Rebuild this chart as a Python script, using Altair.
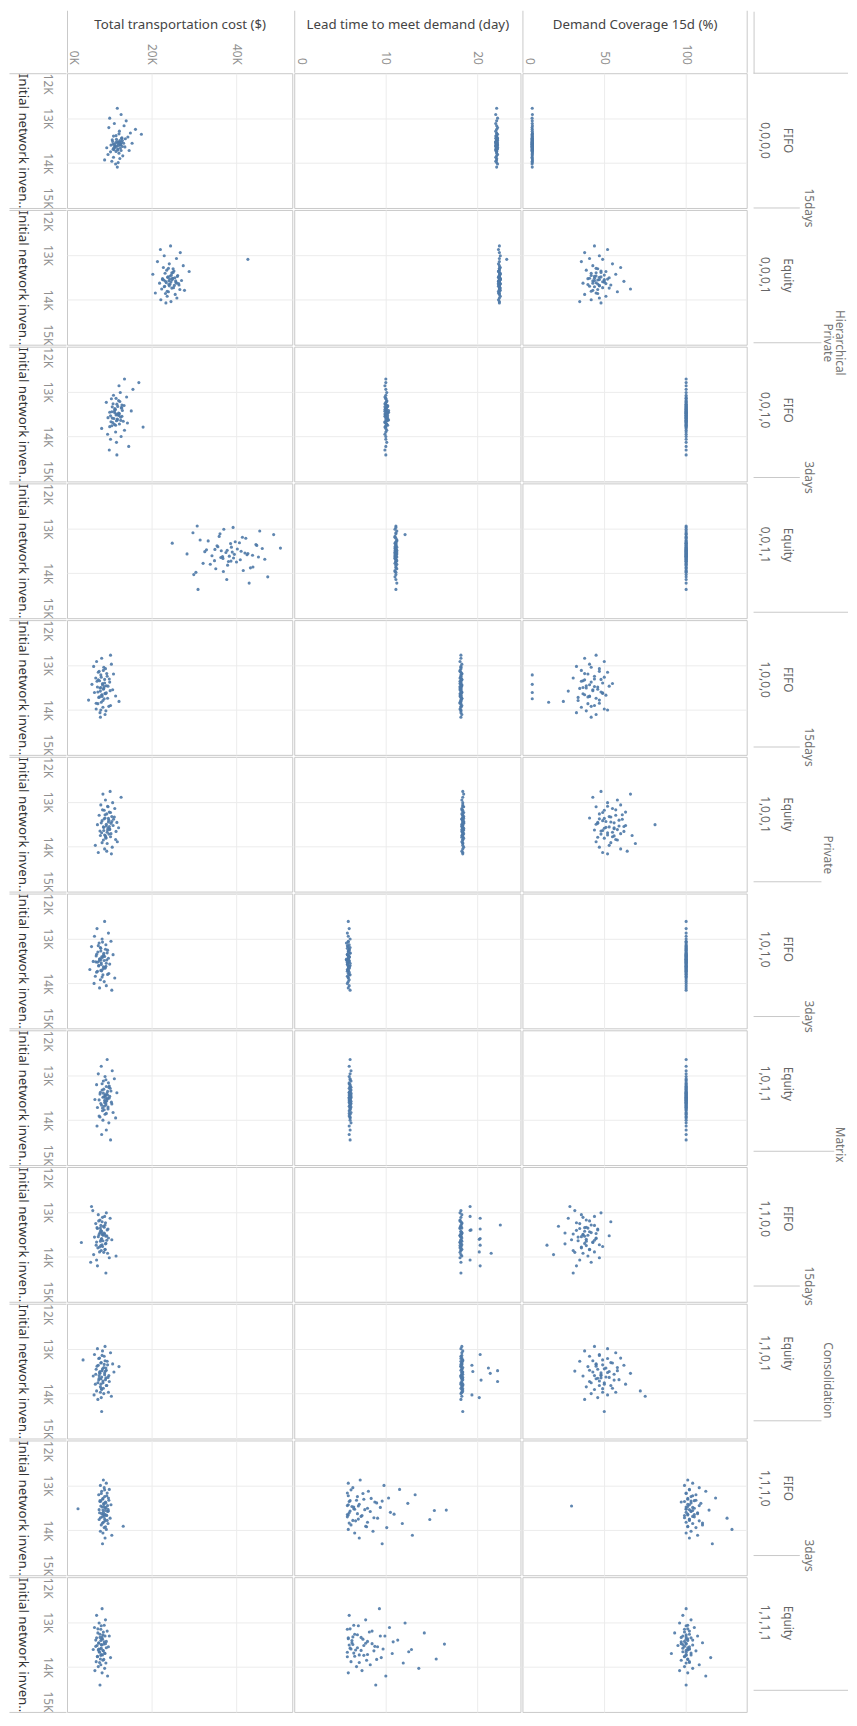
import altair as alt
import pandas as pd

# ---------------- data ----------------
ROW_CODES = ["0,0,0,0", "0,0,0,1", "0,0,1,0", "0,0,1,1", "1,0,0,0", "1,0,0,1",
             "1,0,1,0", "1,0,1,1", "1,1,0,0", "1,1,0,1", "1,1,1,0", "1,1,1,1"]
ROW_POLICY = ["FIFO", "Equity", "FIFO", "Equity", "FIFO", "Equity",
              "FIFO", "Equity", "FIFO", "Equity", "FIFO", "Equity"]
DAYS_LABELS = ["15days", "3days", "15days", "3days", "15days", "3days"]
DAYS_POS = [1, 3, 5, 7, 9, 11]            # row-boundary the label sits on
LEVEL3_LABELS = ["Private", "Private", "Consolidation"]
LEVEL3_POS = [2.0, 5.8, 9.7]
LEVEL4_LABELS = ["Hierarchical", "Matrix"]
LEVEL4_POS = [2.0, 7.95]

MEASURE_TITLES = ["Total transportation cost ($)", "Lead time to meet demand (day)",
                  "Demand Coverage 15d (%)"]
INV_TITLE = "Initial network inven.."

# inventory (K), cost (K$), lead time (day), coverage (%) per row
INV1 = [12.78,12.92,13.00,13.06,13.12,13.17,13.21,13.25,13.29,13.33,
        13.36,13.39,13.42,13.45,13.48,13.50,13.52,13.54,13.56,13.58,
        13.60,13.62,13.64,13.66,13.68,13.70,13.72,13.75,13.78,13.81,
        13.84,13.87,13.90,13.93,13.96,13.99,14.02,14.09,13.57,13.63,
        13.35,13.40,13.44,13.47,13.50,13.52,13.54,13.55,13.56,13.57,
        13.58,13.59,13.60,13.61,13.62,13.63,13.65,13.67,13.69,13.71,
        13.74,13.46,13.53,13.66,13.72]
COST1 = [11.9,12.8,10.1,14.0,11.2,13.5,9.9,16.2,12.4,15.0,
         17.6,11.6,14.4,12.9,10.7,13.1,11.8,12.2,15.4,10.9,
         12.6,11.4,13.7,9.4,12.0,11.1,14.7,10.3,12.3,9.7,
         13.2,11.0,12.5,8.9,10.6,12.1,11.5,11.9,12.7,11.3,
         12.3,11.0,13.0,11.7,12.5,10.8,12.9,11.5,13.4,12.1,
         11.2,12.7,10.4,12.2,11.8,13.1,11.4,12.6,10.9,12.0,
         11.6,13.8,12.4,11.1,12.8]
LEAD1 = [22.1,22.0,22.2,22.1,22.0,22.1,22.2,22.1,22.0,22.1,
         22.2,22.1,22.1,22.0,22.1,22.2,22.1,22.0,22.1,22.1,
         22.2,22.0,22.1,22.1,22.2,22.1,22.0,22.1,22.1,22.2,
         22.1,22.0,22.1,22.1,22.0,22.1,22.2,22.1,22.1,22.0,
         22.1,22.0,22.2,22.1,22.1,22.0,22.1,22.2,22.1,22.0,
         22.1,22.1,22.2,22.0,22.1,22.1,22.2,22.1,22.0,22.1,
         22.1,22.2,22.0,22.1,22.1]
COV1 = [6.0,6.1,5.9,6.0,6.0,6.1,5.9,6.0,6.0,6.1,
        6.0,5.9,6.0,6.1,6.0,6.0,5.9,6.0,6.1,6.0,
        6.0,5.9,6.0,6.1,6.0,6.0,5.9,6.0,6.1,6.0,
        6.0,5.9,6.0,6.1,6.0,6.0,5.9,6.0,6.1,6.0,
        6.0,6.1,5.9,6.0,6.0,6.1,5.9,6.0,6.0,6.1,
        6.0,5.9,6.0,6.1,6.0,6.0,5.9,6.0,6.1,6.0,
        6.0,5.9,6.0,6.1,6.0]

INV2 = [12.80,12.88,12.95,13.02,13.08,13.10,13.15,13.20,13.24,13.28,
        13.31,13.34,13.37,13.40,13.43,13.46,13.49,13.51,13.53,13.55,
        13.57,13.59,13.61,13.63,13.65,13.67,13.70,13.73,13.76,13.79,
        13.82,13.85,13.88,13.92,13.96,14.00,14.04,14.07,13.52,13.58,
        13.30,13.36,13.41,13.45,13.48,13.50,13.52,13.54,13.56,13.58,
        13.60,13.62,13.64,13.66,13.68,13.71,13.74,13.77,13.81,13.39,
        13.47,13.55,13.63,13.69,13.86]
COST2 = [24.5,22.1,26.8,23.0,25.9,42.8,21.4,24.2,27.5,22.8,
         25.1,23.6,28.9,24.8,20.3,26.2,23.9,25.5,22.6,24.9,
         27.1,23.3,25.8,21.9,24.4,26.5,23.1,25.2,22.4,27.8,
         24.0,20.9,25.6,23.7,26.0,22.2,24.6,23.4,25.0,24.1,
         24.0,25.3,23.2,24.7,26.1,23.8,25.0,24.3,22.9,25.7,
         24.6,23.5,26.4,24.1,25.4,23.0,24.8,26.7,23.7,25.1,
         24.4,22.6,25.9,24.2,23.3]
LEAD2 = [22.4,22.3,22.4,22.5,22.4,23.2,22.4,22.3,22.4,22.5,
         22.4,22.4,22.3,22.4,22.5,22.4,22.3,22.4,22.4,22.5,
         22.4,22.3,22.4,22.4,22.5,22.4,22.3,22.4,22.4,22.5,
         22.4,22.3,22.4,22.5,22.4,22.3,22.4,22.4,22.5,22.4,
         22.4,22.3,22.5,22.4,22.4,22.3,22.4,22.5,22.4,22.3,
         22.4,22.4,22.5,22.3,22.4,22.4,22.5,22.4,22.3,22.4,
         22.4,22.5,22.3,22.4,22.4]
COV2 = [44,52,38,47,41,49,36,55,43,60,
        46,39,51,45,57,42,48,53,40,47,
        44,62,50,37,46,54,41,49,66,43,
        58,45,38,51,47,42,35,48,44,50,
        45,48,42,50,44,47,41,52,46,43,
        49,45,51,40,47,44,53,46,42,48,
        45,50,43,47,46]

INV3 = [12.72,12.80,12.87,12.95,13.02,13.08,13.12,13.16,13.20,13.24,
        13.28,13.31,13.34,13.37,13.40,13.43,13.46,13.49,13.52,13.55,
        13.58,13.61,13.64,13.67,13.70,13.73,13.76,13.79,13.82,13.86,
        13.90,13.95,14.00,14.06,14.13,14.22,14.30,14.41,13.47,13.53,
        13.15,13.22,13.27,13.33,13.38,13.42,13.45,13.48,13.50,13.54,
        13.57,13.60,13.63,13.66,13.69,13.72,13.75,13.78,13.35,13.44,
        13.52,13.59,13.65,13.30,13.40]
COST3 = [13.6,17.0,12.3,15.6,12.6,11.0,14.1,10.5,12.2,9.3,
         11.8,13.5,10.7,12.9,11.4,15.2,10.1,12.4,11.6,13.0,
         9.7,11.9,12.7,10.4,14.3,11.2,10.6,18.0,8.2,13.6,
         11.5,9.6,12.8,10.3,11.7,14.6,10.0,11.8,11.3,12.3,
         11.6,12.5,10.9,12.0,11.3,13.1,10.6,12.2,11.8,10.3,
         12.7,11.1,11.9,13.3,10.8,12.4,11.5,10.1,12.9,11.2,
         12.1,10.7,11.7,13.0,11.4]
LEAD3 = [10.0,10.0,9.9,10.0,10.1,10.0,9.9,10.0,10.1,10.0,
         10.0,10.2,9.9,10.0,10.1,10.0,10.3,10.2,10.0,9.9,
         10.1,10.0,10.2,9.9,10.0,10.1,10.0,9.9,10.0,10.1,
         10.0,9.9,10.0,10.0,10.1,10.0,9.9,10.0,10.2,10.0,
         10.0,10.1,9.9,10.2,10.0,10.3,10.1,10.0,9.9,10.2,
         10.0,10.1,10.3,10.0,9.9,10.1,10.2,10.0,10.1,9.9,
         10.0,10.2,10.1,10.0,9.9]
COV3 = [100,100,100,100,100,100,100,100,100,100,
        100,100,100,100,100,100,100,100,100,100,
        100,100,100,100,100,100,100,100,100,100,
        100,100,100,100,100,100,100,100,100,100,
        100,100,100,100,100,100,100,100,100,100,
        100,100,100,100,100,100,100,100,100,100,
        100,100,100,100,100]

INV4 = [12.95,12.98,13.02,13.06,13.10,13.14,13.18,13.22,13.26,13.30,
        13.33,13.36,13.39,13.42,13.45,13.48,13.51,13.54,13.57,13.60,
        13.63,13.66,13.69,13.72,13.75,13.78,13.82,13.86,13.90,13.94,
        13.98,14.03,14.08,14.14,14.22,14.36,13.50,13.56,13.44,13.62,
        13.12,13.20,13.28,13.34,13.38,13.41,13.46,13.49,13.52,13.55,
        13.58,13.61,13.64,13.67,13.70,13.74,13.80,13.88,13.96,13.32,
        13.47,13.53,13.59,13.65,13.73]
COST4 = [30.8,39.3,37.1,45.6,29.8,48.9,36.0,42.3,31.5,39.8,
         24.9,44.7,35.5,38.9,46.2,33.0,41.2,37.6,28.4,43.9,
         36.8,39.4,46.8,34.9,40.1,32.2,38.0,44.0,35.2,41.7,
         30.5,30.0,47.5,37.8,43.1,31.0,36.5,42.8,50.5,38.4,
         36.2,41.5,33.4,38.7,44.9,35.7,40.3,37.9,32.6,42.1,
         39.6,34.3,45.3,36.9,41.0,38.2,33.9,43.4,37.0,40.8,
         35.0,39.1,42.6,36.4,38.8]
LEAD4 = [11.1,11.1,11.0,11.2,11.1,12.1,11.0,11.1,11.2,11.1,
         11.0,11.1,11.1,11.2,11.0,11.1,11.1,11.0,11.2,11.1,
         11.1,11.0,11.1,11.2,11.1,11.0,11.1,11.1,11.2,11.0,
         11.1,11.1,11.0,11.1,11.2,11.1,11.0,11.1,11.1,11.0,
         11.1,11.0,11.2,11.1,11.1,11.0,11.1,11.2,11.1,11.0,
         11.1,11.1,11.2,11.0,11.1,11.1,11.2,11.1,11.0,11.1,
         11.1,11.2,11.0,11.1,11.1]
COV4 = [100,100,100,100,100,100,100,100,100,100,
        100,100,100,100,100,100,100,100,100,100,
        100,100,100,100,100,100,100,100,100,100,
        100,100,100,100,100,100,100,100,100,100,
        100,100,100,100,100,100,100,100,100,100,
        100,100,100,100,100,100,100,100,100,100,
        100,100,100,100,100]

INV5 = [12.78,12.85,12.92,12.98,13.03,13.08,13.12,13.16,13.20,13.22,
        13.25,13.29,13.32,13.35,13.38,13.41,13.43,13.46,13.49,13.52,
        13.55,13.58,13.61,13.63,13.66,13.69,13.72,13.75,13.78,13.81,
        13.83,13.86,13.90,13.94,13.98,14.02,14.06,14.10,14.16,13.50,
        13.05,13.14,13.19,13.27,13.31,13.36,13.40,13.44,13.47,13.51,
        13.54,13.57,13.60,13.64,13.67,13.71,13.74,13.79,13.85,13.92,
        14.00,13.33,13.48,13.62,13.70]
COST5 = [10.3,8.2,7.0,10.5,6.3,9.1,8.6,7.4,11.0,8.0,
         9.5,6.8,8.9,7.7,10.1,8.4,5.9,9.3,7.2,8.7,
         10.8,7.9,6.5,9.0,8.3,11.5,7.5,8.8,5.1,12.3,
         8.1,7.3,10.3,8.5,6.9,9.2,7.8,9.0,7.9,8.0,
         8.7,7.6,9.4,8.1,10.0,7.1,8.9,8.4,9.7,7.8,
         8.6,10.2,7.3,9.1,8.2,7.7,9.6,8.5,6.9,9.9,
         8.0,7.4,8.8,9.3,8.3]
LEAD5 = [18.2,18.2,18.1,18.3,18.2,18.2,18.1,18.2,18.3,18.2,
         18.2,18.1,18.3,18.2,18.2,18.1,18.2,18.3,18.2,18.2,
         18.1,18.2,18.3,18.2,18.2,18.1,18.2,18.3,18.2,18.2,
         18.1,18.2,18.3,18.2,18.1,18.2,18.2,18.3,18.2,18.2,
         18.2,18.1,18.3,18.2,18.2,18.1,18.2,18.3,18.2,18.1,
         18.2,18.2,18.3,18.1,18.2,18.2,18.3,18.2,18.1,18.2,
         18.2,18.3,18.1,18.2,18.2]
COV5 = [45,38,50,41,33,47,36,52,40,6,
        44,31,48,37,42,55,6,39,46,35,
        43,28,6,49,38,41,34,6,47,25,
        16,40,44,36,50,39,33,45,42,37,
        42,47,38,50,44,36,49,41,53,39,
        46,43,48,37,51,40,45,34,47,42,
        52,38,44,49,41]

INV6 = [12.77,12.83,12.90,12.96,13.02,13.07,13.11,13.15,13.19,13.23,
        13.27,13.30,13.33,13.36,13.39,13.42,13.45,13.48,13.51,13.54,
        13.57,13.60,13.63,13.66,13.69,13.72,13.75,13.78,13.81,13.85,
        13.89,13.93,13.97,14.01,14.05,14.10,14.13,14.16,13.46,13.58,
        13.10,13.18,13.24,13.29,13.34,13.38,13.41,13.44,13.47,13.50,
        13.53,13.56,13.59,13.62,13.65,13.68,13.71,13.74,13.79,13.84,
        13.91,13.37,13.55,13.64,13.76]
COST6 = [10.2,8.5,12.8,9.1,10.8,8.0,9.7,11.3,8.8,10.0,
         9.4,7.6,10.6,9.0,11.0,8.3,9.8,10.4,7.2,9.3,
         8.7,10.1,9.6,11.6,8.2,9.9,7.9,10.3,9.2,8.6,
         11.9,9.5,6.7,10.7,8.9,9.4,7.4,10.5,11.8,12.2,
         9.6,8.4,10.3,9.0,11.2,8.8,9.9,10.6,8.1,9.3,
         10.9,8.6,9.7,10.1,7.8,9.5,10.4,8.9,9.2,11.5,
         8.3,9.8,10.0,8.7,9.1]
LEAD6 = [18.4,18.5,18.4,18.3,18.4,18.4,18.5,18.3,18.4,18.4,
         18.3,18.4,18.5,18.4,18.3,18.4,18.4,18.5,18.4,18.3,
         18.4,18.4,18.5,18.3,18.4,18.4,18.3,18.4,18.5,18.4,
         18.3,18.4,18.4,18.5,18.4,18.3,18.4,18.4,18.5,18.4,
         18.4,18.3,18.5,18.4,18.4,18.3,18.4,18.5,18.4,18.3,
         18.4,18.4,18.5,18.3,18.4,18.4,18.5,18.4,18.3,18.4,
         18.4,18.5,18.3,18.4,18.4]
COV6 = [48,66,43,58,52,60,45,55,50,63,
        47,57,53,41,61,49,54,46,81,59,
        51,56,44,62,52,48,67,55,50,58,
        45,69,53,47,60,64,49,52,46,56,
        52,57,49,61,54,47,59,51,56,45,
        63,53,50,58,48,55,60,52,46,57,
        54,50,62,49,56]

INV7 = [12.62,12.78,12.88,12.95,13.01,13.06,13.10,13.14,13.18,13.22,
        13.26,13.30,13.33,13.36,13.39,13.42,13.45,13.48,13.51,13.54,
        13.57,13.60,13.63,13.66,13.69,13.72,13.75,13.78,13.81,13.84,
        13.88,13.92,13.96,14.00,14.05,14.10,14.15,13.47,13.53,13.40,
        13.08,13.16,13.24,13.28,13.32,13.35,13.38,13.41,13.44,13.46,
        13.49,13.52,13.55,13.58,13.61,13.64,13.68,13.73,13.80,13.86,
        13.20,13.37,13.50,13.62,13.71]
COST7 = [8.9,7.1,9.8,6.5,8.3,10.4,7.6,9.2,5.8,8.0,
         9.6,7.3,8.7,10.9,6.9,8.4,7.8,9.4,6.2,8.1,
         10.1,7.5,8.6,9.0,5.4,8.2,7.0,9.9,8.5,6.7,
         11.3,7.9,8.8,6.4,9.3,7.7,10.6,8.0,7.2,8.9,
         8.4,7.4,9.1,8.0,9.5,7.0,8.6,8.2,9.8,7.7,
         8.8,6.8,9.3,8.1,7.5,9.0,8.5,7.2,9.6,8.3,
         7.9,8.7,7.6,9.2,8.0]
LEAD7 = [5.9,6.0,5.8,5.9,6.1,5.9,5.7,6.0,5.9,5.8,
         6.0,5.9,6.1,5.8,5.9,6.0,5.9,5.7,6.0,5.9,
         5.8,6.1,5.9,6.0,5.8,5.9,6.0,5.9,6.1,5.8,
         5.9,6.0,5.9,5.8,6.0,5.9,6.1,5.9,5.8,6.0,
         5.9,5.8,6.0,5.9,6.1,5.8,5.9,6.0,5.9,5.7,
         6.0,5.9,6.1,5.8,5.9,6.0,5.9,5.8,6.0,5.9,
         6.1,5.9,5.8,6.0,5.9]
COV7 = [100,100,100,100,100,100,100,100,100,100,
        100,100,100,100,100,100,100,100,100,100,
        100,100,100,100,100,100,100,100,100,100,
        100,100,100,100,100,100,100,100,100,100,
        100,100,100,100,100,100,100,100,100,100,
        100,100,100,100,100,100,100,100,100,100,
        100,100,100,100,100]

INV8 = [12.65,12.80,12.90,12.97,13.03,13.08,13.13,13.17,13.21,13.25,
        13.29,13.33,13.36,13.39,13.42,13.45,13.48,13.51,13.54,13.57,
        13.60,13.63,13.66,13.69,13.72,13.75,13.79,13.83,13.87,13.91,
        13.95,14.00,14.06,14.13,14.22,14.32,14.44,13.50,13.56,13.44,
        13.10,13.19,13.27,13.31,13.35,13.38,13.41,13.44,13.47,13.49,
        13.52,13.55,13.58,13.61,13.64,13.67,13.71,13.77,13.85,13.93,
        13.24,13.40,13.53,13.62,13.73]
COST8 = [9.5,8.1,10.7,7.4,9.0,11.2,8.6,9.8,7.0,9.3,
         10.2,8.3,9.6,11.8,7.8,9.1,8.7,10.0,6.6,9.4,
         10.5,8.0,9.2,8.8,7.2,9.7,8.4,10.9,9.0,7.6,
         11.5,8.5,9.9,7.1,9.3,8.2,10.3,9.1,8.9,9.6,
         9.2,8.3,9.9,8.7,10.4,7.9,9.4,9.0,10.1,8.5,
         9.6,7.6,9.1,8.9,10.6,8.2,9.7,8.8,9.3,7.8,
         10.0,8.6,9.5,9.2,8.4]
LEAD8 = [6.1,6.0,6.2,6.1,6.0,6.1,6.2,6.0,6.1,6.1,
         6.0,6.2,6.1,6.0,6.1,6.1,6.2,6.0,6.1,6.0,
         6.1,6.2,6.1,6.0,6.1,6.1,6.0,6.2,6.1,6.0,
         6.1,6.1,6.2,6.0,6.1,6.0,6.1,6.2,6.1,6.0,
         6.1,6.0,6.2,6.1,6.1,6.0,6.1,6.2,6.1,6.0,
         6.1,6.1,6.2,6.0,6.1,6.1,6.2,6.1,6.0,6.1,
         6.1,6.2,6.0,6.1,6.1]
COV8 = [100,100,100,100,100,100,100,100,100,100,
        100,100,100,100,100,100,100,100,100,100,
        100,100,100,100,100,100,100,100,100,100,
        100,100,100,100,100,100,100,100,100,100,
        100,100,100,100,100,100,100,100,100,100,
        100,100,100,100,100,100,100,100,100,100,
        100,100,100,100,100]

INV9 = [12.88,12.97,13.02,13.06,13.10,13.14,13.18,13.22,13.26,13.29,
        13.32,13.35,13.38,13.41,13.44,13.47,13.50,13.53,13.56,13.59,
        13.62,13.65,13.68,13.71,13.74,13.77,13.80,13.83,13.86,13.89,
        13.92,13.95,13.98,14.02,14.07,14.12,14.20,14.36,13.48,13.54,
        13.12,13.20,13.24,13.30,13.34,13.37,13.40,13.43,13.46,13.49,
        13.52,13.55,13.58,13.61,13.64,13.67,13.70,13.73,13.78,13.84,
        13.90,13.36,13.51,13.63,13.75]
COST9 = [5.8,6.1,9.3,7.4,8.9,10.2,7.8,8.3,6.8,9.0,
         8.6,7.1,9.7,8.0,8.0,8.8,7.6,9.4,6.5,8.2,
         10.6,7.9,3.4,9.1,6.9,8.4,7.3,9.0,8.1,7.7,
         9.6,6.3,11.6,10.0,7.0,5.6,7.2,9.2,8.3,9.2,
         8.4,7.5,9.1,8.0,8.8,7.2,9.5,8.2,7.8,8.9,
         8.6,7.4,9.8,8.1,8.5,7.0,9.2,8.3,7.7,9.0,
         8.7,7.9,8.4,9.4,8.0]
LEAD9 = [19.2,18.2,18.1,18.3,19.2,20.3,18.1,18.2,18.3,22.5,
         18.2,18.1,20.3,19.2,18.2,18.3,18.2,18.1,18.2,20.3,
         18.2,18.3,18.1,18.2,20.3,18.2,18.1,18.3,18.2,20.2,
         21.5,18.2,18.3,18.1,19.2,18.2,20.3,18.2,18.3,18.2,
         18.2,18.1,18.3,18.2,18.2,18.1,19.3,18.2,18.3,18.2,
         18.1,18.2,18.3,20.2,18.2,18.1,18.2,18.3,18.2,18.2,
         18.1,18.3,18.2,18.2,18.1]
COV9 = [29,32,48,36,44,28,39,54,35,42,
        22,38,46,33,41,26,37,53,34,45,
        30,39,43,26,15,49,36,41,31,44,
        37,19,40,47,35,42,33,31,45,38,
        37,41,33,44,39,35,46,38,42,31,
        40,36,45,39,34,43,38,47,36,41,
        32,40,37,44,39]

INV10 = [12.95,13.00,13.05,13.09,13.13,13.17,13.21,13.25,13.28,13.31,
         13.34,13.37,13.40,13.43,13.46,13.49,13.52,13.55,13.58,13.61,
         13.64,13.67,13.70,13.73,13.76,13.79,13.82,13.85,13.88,13.91,
         13.94,13.97,14.00,14.03,14.06,14.09,14.13,14.40,13.50,13.60,
         13.15,13.22,13.27,13.32,13.36,13.39,13.42,13.45,13.48,13.51,
         13.54,13.57,13.60,13.63,13.66,13.69,13.72,13.76,13.82,13.89,
         13.97,13.35,13.53,13.65,13.79]
COST10 = [9.0,7.2,8.4,10.3,6.5,8.8,7.7,3.8,9.5,8.1,
          10.8,7.4,12.3,9.2,6.9,8.3,11.1,7.8,8.9,6.2,
          9.7,8.0,7.5,10.0,8.5,6.7,9.3,7.9,8.6,8.2,
          7.0,9.8,8.7,6.4,10.5,8.1,7.3,8.2,9.1,7.6,
          8.3,7.5,9.0,8.0,9.6,7.1,8.7,8.4,9.3,7.8,
          8.9,6.8,9.9,8.2,7.6,9.1,8.5,7.3,9.4,8.1,
          7.9,8.8,7.7,9.2,8.0]
LEAD10 = [18.3,18.2,18.4,18.3,20.3,18.2,18.3,18.4,18.2,18.3,
          18.3,19.4,18.2,21.2,18.3,22.2,18.4,21.4,18.3,18.2,
          18.4,18.3,20.4,22.2,18.3,18.2,18.4,18.3,18.2,18.3,
          18.4,18.3,18.2,19.4,18.3,20.2,18.2,18.4,18.3,18.2,
          18.3,18.2,18.4,18.3,18.3,18.2,18.4,18.3,18.2,19.5,
          18.3,18.4,18.3,18.2,18.3,18.4,18.3,18.2,18.3,18.4,
          18.3,18.2,18.3,18.3,18.4]
COV10 = [44,52,38,57,47,41,60,49,35,54,
         45,62,40,51,46,58,43,66,48,37,
         53,45,56,41,50,63,47,39,55,44,
         72,49,42,52,75,46,38,50,32,48,
         47,52,43,55,49,45,58,50,41,53,
         48,56,44,51,46,59,47,42,54,49,
         57,45,52,48,50]

INV11 = [12.88,12.95,13.00,13.05,13.09,13.13,13.17,13.21,13.25,13.28,
         13.31,13.34,13.37,13.40,13.43,13.46,13.49,13.52,13.55,13.58,
         13.61,13.64,13.67,13.70,13.73,13.76,13.79,13.82,13.85,13.88,
         13.91,13.94,13.98,14.02,14.06,14.11,14.17,14.30,13.47,13.56,
         13.10,13.18,13.23,13.29,13.33,13.36,13.39,13.42,13.45,13.48,
         13.51,13.54,13.57,13.60,13.63,13.66,13.69,13.72,13.78,13.84,
         13.92,13.35,13.53,13.65,13.75]
COST11 = [8.6,9.3,7.9,8.8,10.0,8.2,9.5,7.5,8.9,9.8,
          8.4,7.8,9.1,8.7,10.4,8.0,9.2,2.6,8.5,9.6,
          7.7,8.9,9.4,8.3,10.2,7.6,9.0,8.6,9.7,8.1,
          13.3,8.8,9.3,7.9,8.5,10.6,9.0,8.4,8.7,9.1,
          8.9,8.1,9.4,8.5,9.9,7.8,9.2,8.7,9.6,8.3,
          9.0,7.6,9.8,8.6,8.2,9.3,8.8,7.9,9.5,8.4,
          9.1,8.0,9.7,8.6,8.9]
LEAD11 = [7.2,5.9,9.8,6.4,11.5,8.1,5.8,13.2,6.9,10.3,
          7.6,6.1,8.8,12.4,5.9,7.0,9.4,6.5,16.6,8.3,
          6.0,10.9,7.4,5.8,9.1,14.8,6.7,8.0,11.8,6.2,
          7.8,10.1,5.9,8.6,6.6,12.9,7.1,9.6,6.3,15.3,
          6.2,7.5,5.9,8.4,6.8,6.0,9.0,7.1,5.8,6.5,
          8.0,7.7,6.1,10.5,6.9,5.9,7.3,8.7,6.4,6.0,
          7.9,9.6,6.6,5.8,7.0]
COV11 = [101,104,99,108,102,112,100,106,103,118,
         101,105,97,109,102,30,104,100,114,103,
         107,101,99,105,125,102,108,100,104,110,
         101,106,128,103,100,107,102,116,101,104,
         102,100,104,101,106,99,103,101,108,100,
         105,102,103,100,107,101,104,99,102,110,
         101,103,100,105,102]

INV12 = [12.70,12.85,12.95,13.02,13.07,13.12,13.16,13.20,13.24,13.28,
         13.31,13.34,13.37,13.40,13.43,13.46,13.49,13.52,13.55,13.58,
         13.61,13.64,13.67,13.70,13.73,13.76,13.79,13.82,13.85,13.88,
         13.91,13.95,13.99,14.03,14.08,14.13,14.20,14.40,13.50,13.60,
         13.08,13.15,13.22,13.27,13.31,13.35,13.38,13.41,13.44,13.47,
         13.51,13.54,13.57,13.60,13.63,13.66,13.69,13.72,13.77,13.83,
         13.90,13.33,13.48,13.62,13.74]
COST12 = [8.3,7.0,9.1,7.6,8.8,6.5,8.0,9.5,7.3,8.5,
          10.0,7.8,8.2,6.8,9.3,7.5,8.7,7.1,9.8,8.1,
          6.2,8.6,7.7,9.0,8.4,7.2,10.3,7.9,8.5,6.9,
          9.2,8.0,7.4,8.9,6.6,8.3,9.6,7.8,8.1,7.5,
          8.1,7.3,8.6,7.8,9.0,7.0,8.4,8.0,8.8,7.5,
          8.2,6.8,9.3,7.9,8.5,7.6,8.9,8.1,7.2,8.7,
          7.7,8.3,9.1,7.4,8.0]
LEAD12 = [9.3,6.0,7.8,12.1,6.5,10.4,5.8,8.5,14.2,6.9,
          9.9,7.3,5.9,11.3,8.0,6.3,16.4,7.6,9.1,6.1,
          12.8,8.7,5.8,10.7,7.1,6.6,9.5,15.5,7.9,6.2,
          11.9,8.3,6.8,13.6,7.4,5.9,10.0,8.9,6.4,9.7,
          7.0,6.1,8.2,6.6,9.4,5.9,7.5,6.3,10.8,7.8,
          6.0,8.8,6.9,6.2,7.3,12.5,6.5,8.0,5.8,9.0,
          7.1,6.4,8.5,6.7,7.6]
COV12 = [100,98,103,96,101,105,99,102,93,100,
         107,97,101,104,99,110,100,95,102,98,
         101,106,100,91,103,99,115,101,97,102,
         100,108,99,104,96,101,112,100,98,102,
         100,101,99,102,98,103,100,101,97,100,
         104,99,101,102,100,98,103,100,99,101,
         102,100,97,101,100]

ROWS = [(INV1, COST1, LEAD1, COV1), (INV2, COST2, LEAD2, COV2),
        (INV3, COST3, LEAD3, COV3), (INV4, COST4, LEAD4, COV4),
        (INV5, COST5, LEAD5, COV5), (INV6, COST6, LEAD6, COV6),
        (INV7, COST7, LEAD7, COV7), (INV8, COST8, LEAD8, COV8),
        (INV9, COST9, LEAD9, COV9), (INV10, COST10, LEAD10, COV10),
        (INV11, COST11, LEAD11, COV11), (INV12, COST12, LEAD12, COV12)]

recs = []
for r, (inv, cost, lead, cov) in enumerate(ROWS, start=1):
    n = min(len(inv), len(cost), len(lead), len(cov))
    for i in range(n):
        recs.append({"row": r, "inv": inv[i], "cost": cost[i],
                     "lead": lead[i], "cov": cov[i]})
df = pd.DataFrame(recs)

# ---------------- style ----------------
W1, W2, W3 = 229, 230, 228   # panel widths
H = 137                      # panel (row) height
HW = 96                      # right header width
TOPBAND = 63                 # height of the column-title band
FONT = "Noto Sans"
BLUE = "#4e79a7"
BORDER = "#c8c8c8"
GRID = "#ececec"
TICKC = "#8f8f8f"
TITLEC = "#444444"
HDRC = "#666666"


def x_axis(title, values, edges, label_expr="datum.label"):
    edge_test = " || ".join(f"datum.value == {e}" for e in edges)
    return alt.Axis(
        orient="top", title=title, values=values,
        labelExpr=f"({edge_test}) && datum.value != 0 ? '' : {label_expr}",
        labelAngle=90, labelAlign="right",
        labelBaseline={"condition": {"test": "datum.value == 0", "value": "bottom"},
                       "value": "middle"},
        labelPadding=8 - TOPBAND, labelFlush=False, labelOverlap=False,
        labelColor=TICKC, labelFont=FONT, labelFontSize=12,
        ticks=True, tickSize=TOPBAND, tickColor=BORDER, tickWidth=1,
        tickOpacity={"condition": {"test": edge_test, "value": 1}, "value": 0},
        domain=False, grid=True, gridColor=GRID,
        gridOpacity={"condition": {"test": edge_test, "value": 0}, "value": 1},
        titleFont=FONT, titleFontSize=13.5, titleFontWeight="normal",
        titleColor=TITLEC, titleY=-48, titleBaseline="middle",
        titleAlign="center", titleAngle=0)


inner_grid = {"condition": {"test": "datum.value == 13 || datum.value == 14", "value": 1},
              "value": 0}

y_axis_main = alt.Axis(
    values=[12, 13, 14, 15], labelExpr="datum.value + 'K'",
    labelAngle=90, labelBaseline="top",
    labelAlign={"condition": [{"test": "datum.value == 12", "value": "left"},
                              {"test": "datum.value == 15", "value": "right"}],
                "value": "center"},
    labelPadding=-44, labelFlush=False, labelOverlap=False,
    labelColor=TICKC, labelFont=FONT, labelFontSize=12,
    ticks=True, tickSize=58, tickColor=BORDER, tickWidth=1,
    tickOpacity={"condition": {"test": "datum.value == 12 || datum.value == 15", "value": 1},
                 "value": 0},
    domain=False, grid=True, gridColor=GRID, gridOpacity=inner_grid,
    title=INV_TITLE, titleAngle=90, titleX=-44, titleY=H / 2,
    titleAlign="center", titleBaseline="middle", titleFont=FONT,
    titleFontSize=13.5, titleFontWeight="normal", titleColor="#333333")

y_axis_plain = alt.Axis(values=[13, 14], labels=False, ticks=False, domain=False,
                        grid=True, gridColor=GRID, title=None)

y_scale = alt.Scale(domain=[12, 15], reverse=True, nice=False, zero=False)


def panel(field, scale, xaxis, yaxis, width):
    return alt.Chart(df).mark_circle(size=10, color=BLUE, opacity=0.9).encode(
        x=alt.X(f"{field}:Q", scale=scale, axis=xaxis),
        y=alt.Y("inv:Q", scale=y_scale, axis=yaxis),
    ).properties(width=width, height=H).facet(
        row=alt.Row("row:O", header=alt.Header(labels=False, title=None)),
        spacing=0,
    )


c1 = panel("cost", alt.Scale(domain=[0, 53.3], nice=False, zero=False),
           x_axis(MEASURE_TITLES[0], [0, 20, 40], [0], "datum.value + 'K'"),
           y_axis_main, W1)
c2 = panel("lead", alt.Scale(domain=[0, 24.7], nice=False, zero=False),
           x_axis(MEASURE_TITLES[1], [0, 10, 20], [0]), y_axis_plain, W2)
c3 = panel("cov", alt.Scale(domain=[0, 137], nice=False, zero=False),
           x_axis(MEASURE_TITLES[2], [0, 50, 100, 137], [0, 137]), y_axis_plain, W3)

# ---------------- right-hand row headers ----------------
hdr_y = alt.Scale(domain=[0, 12], reverse=True, nice=False, zero=False)
hdr_x = alt.Scale(domain=[0, HW], nice=False, zero=False)

L4_EDGES = {0, 4, 12}
L3_EDGES = {8}
L2_EDGES = {2, 6, 10}
bounds = []
for b in range(13):
    if b in L4_EDGES:
        ext = HW
    elif b in L3_EDGES:
        ext = 82
    elif b in L2_EDGES:
        ext = 69
    else:
        ext = 47
    bounds.append({"b": b, "x0": 0, "x1": ext})
bounds_df = pd.DataFrame(bounds)

rules = alt.Chart(bounds_df).mark_rule(color=BORDER, strokeWidth=1).encode(
    x=alt.X("x0:Q", scale=hdr_x,
            axis=alt.Axis(orient="top", values=[0], labels=False, ticks=True,
                          tickSize=TOPBAND, tickColor=BORDER, domain=False,
                          grid=False, title=None)),
    x2="x1:Q",
    y=alt.Y("b:Q", scale=hdr_y, axis=None),
)

codes_df = pd.DataFrame({"pos": [i + 0.5 for i in range(12)], "label": ROW_CODES})
policy_df = pd.DataFrame({"pos": [i + 0.5 for i in range(12)], "label": ROW_POLICY})
days_df = pd.DataFrame({"pos": DAYS_POS, "label": DAYS_LABELS})
l3_df = pd.DataFrame({"pos": LEVEL3_POS, "label": LEVEL3_LABELS})
l4_df = pd.DataFrame({"pos": LEVEL4_POS, "label": LEVEL4_LABELS})


def hdr_text(data, xpx, color=HDRC):
    return alt.Chart(data).mark_text(angle=90, font=FONT, fontSize=12, color=color,
                                     align="center", baseline="middle").encode(
        x=alt.value(xpx),
        y=alt.Y("pos:Q", scale=hdr_y, axis=None),
        text="label:N",
    )


hdr = alt.layer(
    rules,
    hdr_text(codes_df, 12),
    hdr_text(policy_df, 35),
    hdr_text(days_df, 56, "#737373"),
    hdr_text(l3_df, 76, "#737373"),
    hdr_text(l4_df, 88, "#737373"),
).properties(width=HW, height=12 * H, view=alt.ViewBackground(stroke=None))

chart = alt.hconcat(c1, c2, c3, hdr, spacing=0).configure_view(
    stroke=BORDER, strokeWidth=1
).properties(padding={"left": 0, "top": -13, "right": 0, "bottom": 0},
             background="#ffffff")

chart.save("out.html", embed_options={"renderer": "svg", "actions": False})
